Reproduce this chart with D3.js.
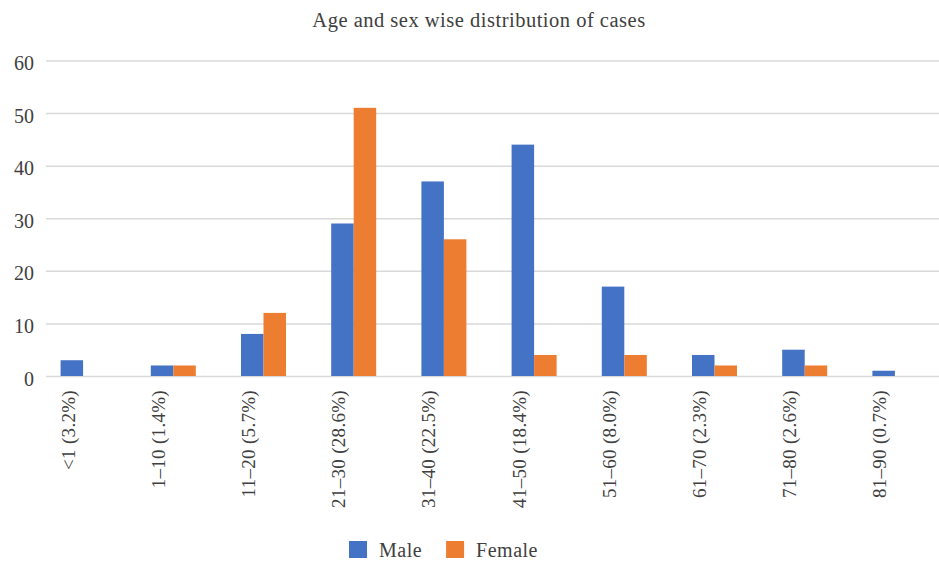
<!DOCTYPE html>
<html>
<head>
<meta charset="utf-8">
<script src="https://cdn.jsdelivr.net/npm/d3@7/dist/d3.min.js"></script>
<style>
  html, body { margin: 0; padding: 0; background: #ffffff; }
</style>
</head>
<body>
<svg id="chart" width="939" height="561"></svg>
<script>
// Age groups (with share of all cases) and case counts per sex
const categories = ["<1 (3.2%)", "1–10 (1.4%)", "11–20 (5.7%)", "21–30 (28.6%)", "31–40 (22.5%)",
                    "41–50 (18.4%)", "51–60 (8.0%)", "61–70 (2.3%)", "71–80 (2.6%)", "81–90 (0.7%)"];
const seriesNames = ["Male", "Female"];
const maleCounts = [3, 2, 8, 29, 37, 44, 17, 4, 5, 1];
const femaleCounts = [0, 2, 12, 51, 26, 4, 4, 2, 2, 0];
const yTicks = [0, 10, 20, 30, 40, 50, 60];
const titleText = "Age and sex wise distribution of cases";

const FONT = '"Liberation Serif", "Times New Roman", serif';
const TEXT_COLOR = "#404040";
const colors = { Male: "#4472C4", Female: "#ED7D31" };
const seriesValues = { Male: maleCounts, Female: femaleCounts };

const svg = d3.select("#chart").attr("font-family", FONT);

const x = d3.scaleBand().domain(categories).range([38, 940]).paddingInner(0).paddingOuter(0);
const groupWidth = 45;
const xs = d3.scaleBand().domain(seriesNames).range([0, groupWidth]).padding(0);
const y = d3.scaleLinear().domain([0, 60]).range([376, 60.5]);

// Title
svg.append("text")
  .attr("x", 479).attr("y", 27)
  .attr("text-anchor", "middle")
  .attr("font-family", FONT)
  .attr("font-size", 20.5)
  .attr("letter-spacing", 0.5)
  .attr("fill", TEXT_COLOR)
  .text(titleText);

// Horizontal gridlines and value labels
const yAxis = d3.axisLeft(y).tickValues(yTicks).tickSize(-(939 - 46)).tickPadding(12);
const gy = svg.append("g").attr("transform", "translate(46,0)").call(yAxis)
  .attr("font-family", FONT).attr("font-size", 20);
gy.select(".domain").remove();
gy.selectAll(".tick line").attr("stroke", "#d9d9d9").attr("stroke-width", 1.5);
gy.selectAll(".tick text")
  .attr("font-family", FONT)
  .attr("font-size", 20)
  .attr("fill", TEXT_COLOR)
  .attr("dy", "0.45em");

// Bars
const groups = svg.append("g").selectAll("g")
  .data(categories)
  .join("g")
  .attr("transform", d => `translate(${x(d) + x.bandwidth() / 2 - groupWidth / 2},0)`);

groups.selectAll("rect")
  .data((d, i) => seriesNames.map(s => ({ s, v: seriesValues[s][i] })))
  .join("rect")
  .attr("x", d => xs(d.s))
  .attr("width", xs.bandwidth())
  .attr("y", d => y(d.v))
  .attr("height", d => y(0) - y(d.v))
  .attr("fill", d => colors[d.s]);

// Category labels, rotated
const xAxis = d3.axisBottom(x).tickSize(0).tickPadding(0);
const gx = svg.append("g").attr("transform", "translate(0,376)").call(xAxis)
  .attr("font-family", FONT).attr("font-size", 19);
gx.select(".domain").remove();
gx.selectAll(".tick text")
  .attr("font-family", FONT)
  .attr("font-size", 19)
  .attr("letter-spacing", 0.3)
  .attr("fill", TEXT_COLOR)
  .attr("text-anchor", "end")
  .attr("dy", 0)
  .attr("transform", "translate(-8.5,14) rotate(-90)");

// Legend
const legend = svg.append("g");
let lx = 349;
seriesNames.forEach(name => {
  legend.append("rect")
    .attr("x", lx).attr("y", 541).attr("width", 18).attr("height", 17)
    .attr("fill", colors[name]);
  const t = legend.append("text")
    .attr("x", lx + 30).attr("y", 557)
    .attr("font-family", FONT)
    .attr("font-size", 20)
    .attr("letter-spacing", 0.5)
    .attr("fill", TEXT_COLOR)
    .text(name);
  lx += 30 + t.node().getComputedTextLength() + 24;
});
</script>
</body>
</html>
